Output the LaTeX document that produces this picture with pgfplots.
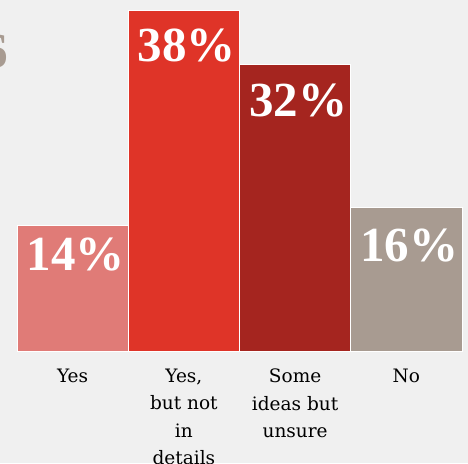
\documentclass[border=0pt]{standalone}
\usepackage{fontspec}
\setmainfont{DejaVu Serif}
\newfontfamily\numfont{Liberation Serif}
\usepackage{pgfplots}
\pgfplotsset{compat=1.18}
\definecolor{bgc}{HTML}{F0F0F0}
\definecolor{cA}{HTML}{E07B77}
\definecolor{cB}{HTML}{DF3428}
\definecolor{cC}{HTML}{A5251F}
\definecolor{cD}{HTML}{A89B91}
\begin{document}
\begin{tikzpicture}[x=1pt,y=1pt]
\fill[bgc] (0,0) rectangle (468,463);
\useasboundingbox (0,0) rectangle (468,463);
\begin{axis}[
  at={(17pt,112pt)}, anchor=south west,
  scale only axis, width=445pt, height=351pt,
  xmin=-0.5, xmax=3.5, ymin=0, ymax=39.2,
  axis line style={draw=none},
  major tick length=0pt,
  ytick=\empty,
  xtick={0,1,2,3},
  xticklabels={Yes, {Yes,\\but not\\in\\details}, {Some\\ideas but\\unsure}, No},
  xticklabel style={align=center, anchor=north, inner sep=0pt, yshift=-18pt,
    font=\fontsize{18.5}{27.3}\selectfont, text=black},
  ybar, bar width=1, bar shift=0pt,
  clip=false,
  every axis plot/.append style={draw=white, line width=1pt},
  /pgf/number format/assume math mode=true,
  nodes near coords={\pgfmathprintnumber{\pgfplotspointmeta}\%},
  every node near coord/.append style={anchor=north, xshift=3pt,
    inner sep=0pt, text=white, font=\numfont\bfseries\fontsize{49}{49}\selectfont},
]
\addplot[fill=cA, every node near coord/.append style={yshift=-12pt}] coordinates {(0,14)};
\addplot[fill=cB, every node near coord/.append style={yshift=-18pt}] coordinates {(1,38)};
\addplot[fill=cC, every node near coord/.append style={yshift=-19pt}] coordinates {(2,32)};
\addplot[fill=cD, every node near coord/.append style={yshift=-21pt}] coordinates {(3,16)};
\end{axis}
\node[anchor=base east, inner sep=0pt, text=cD, font=\numfont\bfseries\fontsize{49}{49}\selectfont] at (8,395) {6};
\end{tikzpicture}
\end{document}
